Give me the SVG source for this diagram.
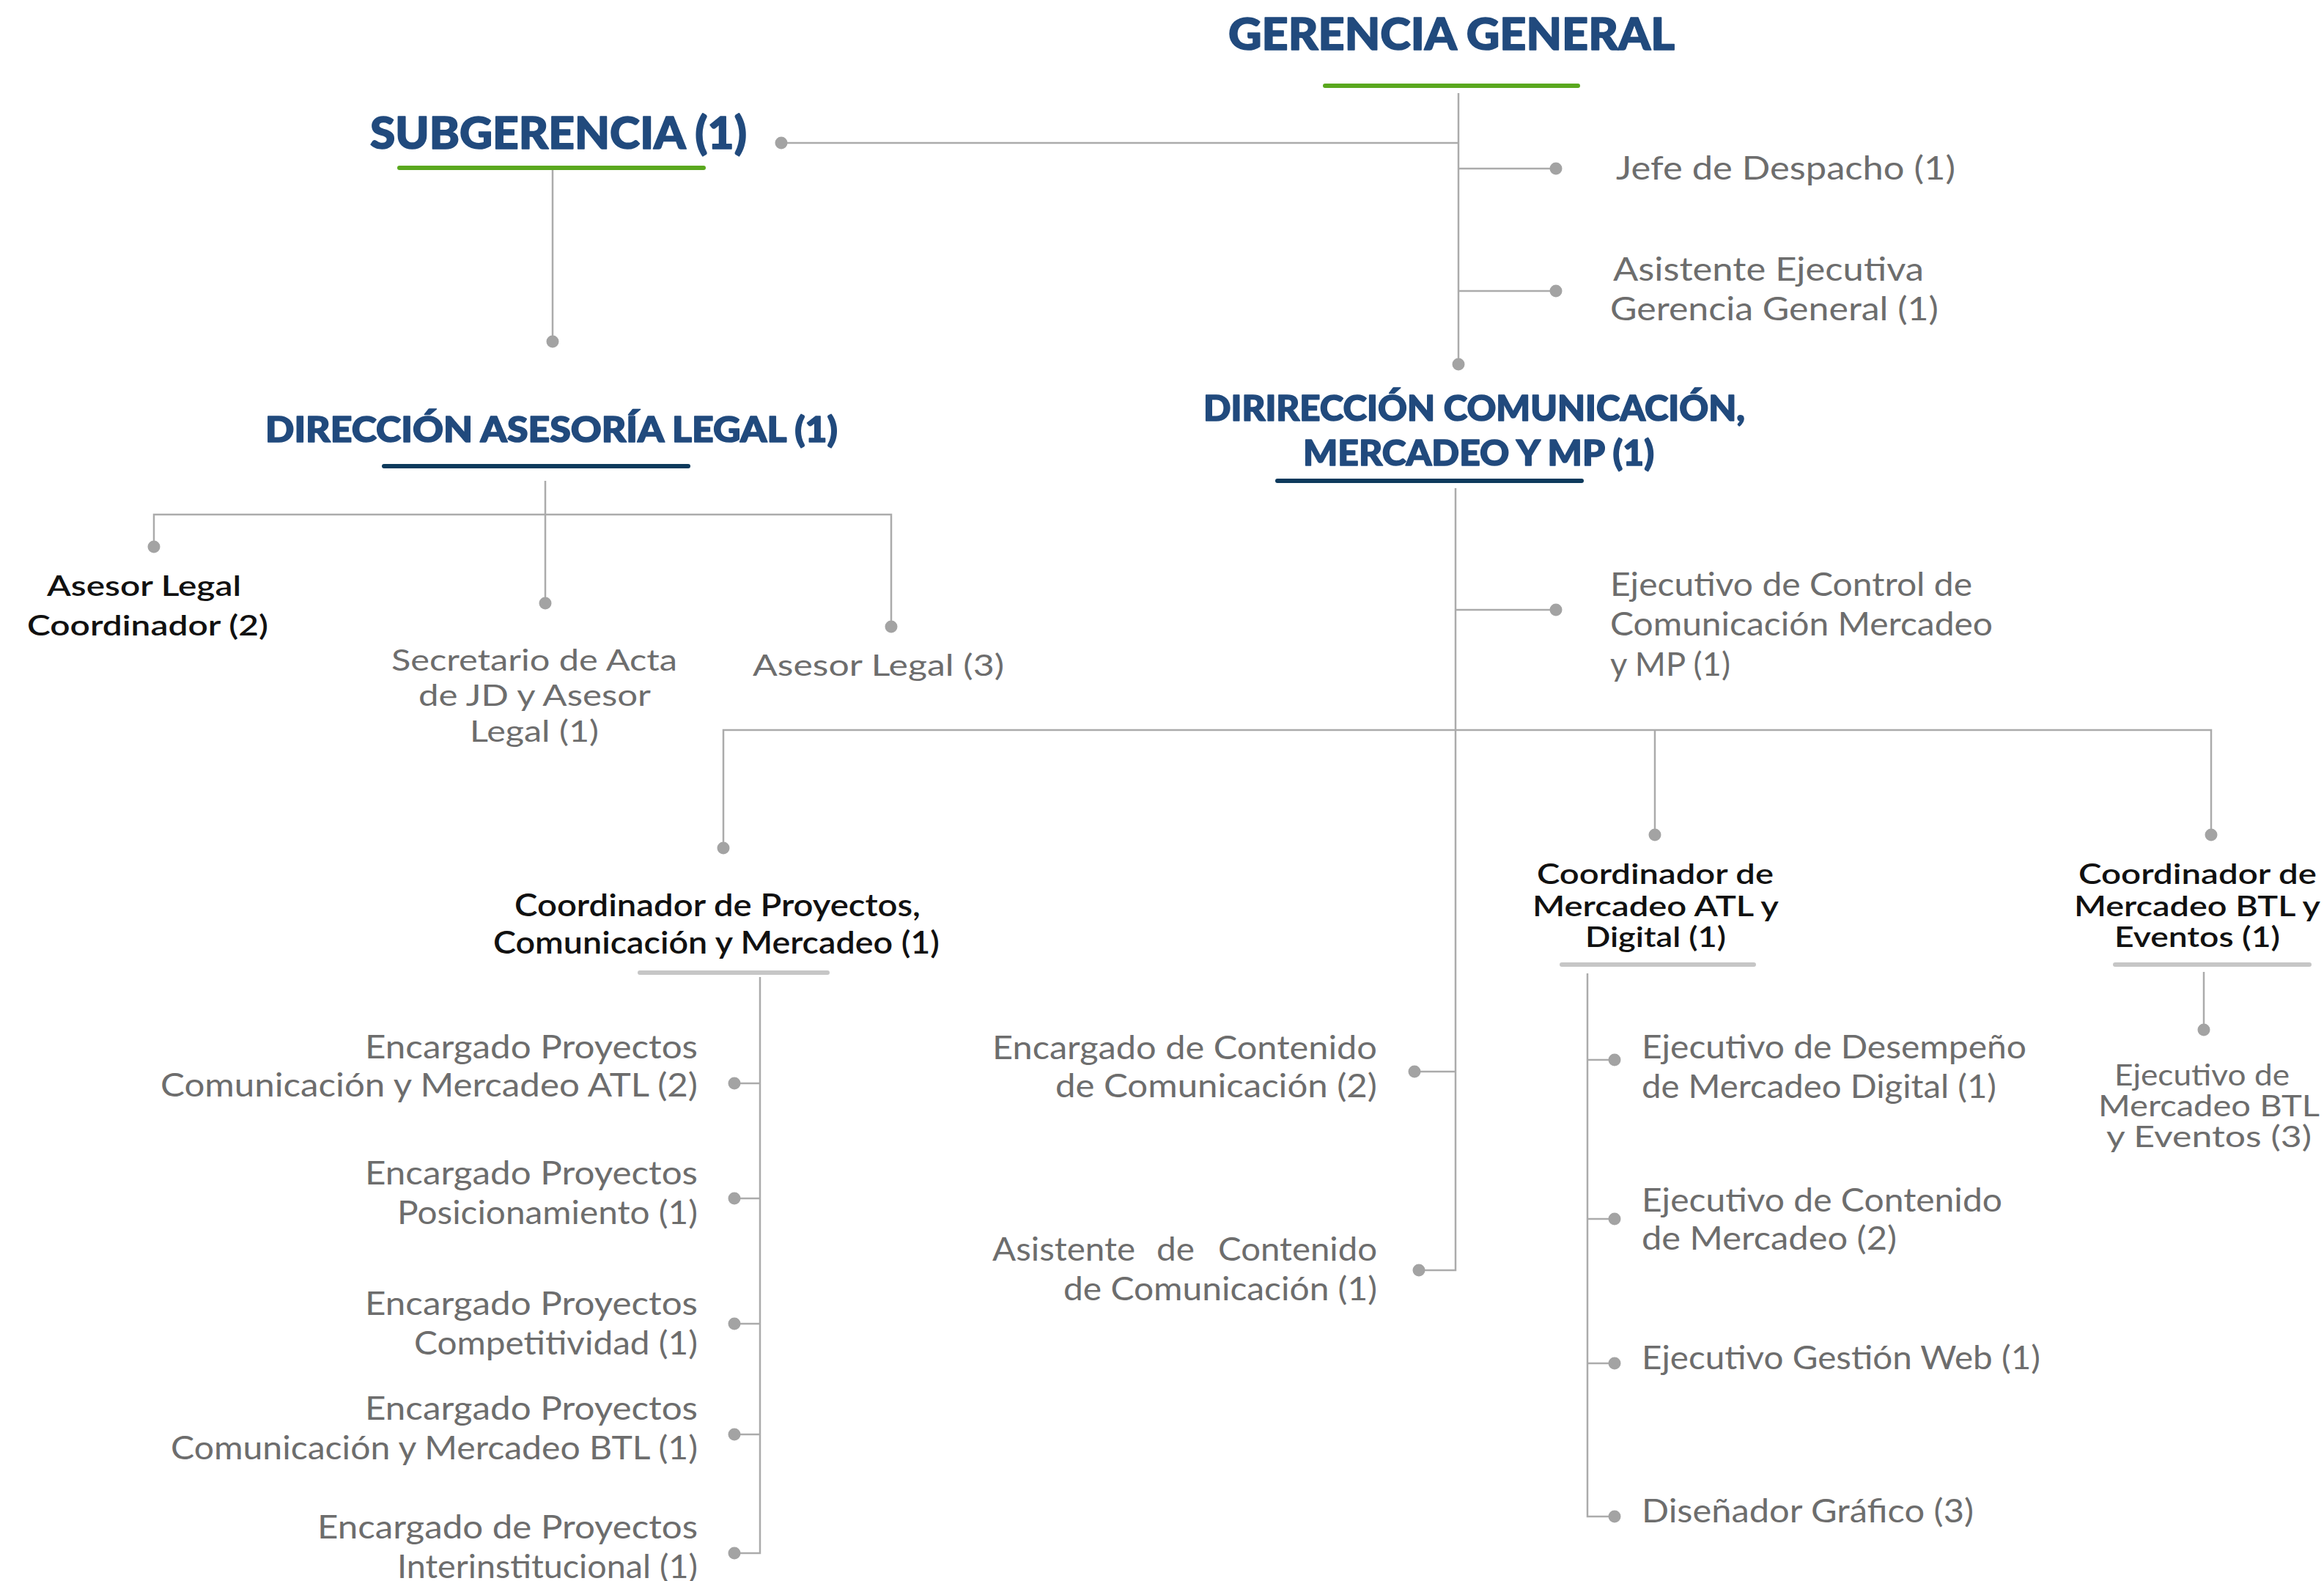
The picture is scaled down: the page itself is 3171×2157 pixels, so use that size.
<svg xmlns="http://www.w3.org/2000/svg" width="3171" height="2157" viewBox="0 0 3171 2157">
<style>
.h{font-family:Lato,"Liberation Sans",sans-serif;font-weight:900;fill:#214a7d;stroke:#214a7d;stroke-width:1.6;stroke-linejoin:round}
.b{font-family:Lato,"Liberation Sans",sans-serif;font-weight:600;fill:#111}
.g{font-family:Lato,"Liberation Sans",sans-serif;font-weight:400;fill:#6d6d6d}
.ln{fill:none;stroke:#ababab;stroke-width:2.5}
.dot{fill:#a3a3a3}
.ug{stroke:#5aa81e;stroke-width:6;stroke-linecap:round}
.un{stroke:#0d3a5c;stroke-width:6;stroke-linecap:round}
.ugr{stroke:#c6c6c6;stroke-width:6;stroke-linecap:round}
</style>
<rect width="3171" height="2157" fill="#fff"/>
<g id="connectors">
<path class="ln" d="M1990 127V497"/>
<path class="ln" d="M1066 195H1990"/>
<path class="ln" d="M1990 230H2123"/>
<path class="ln" d="M1990 397H2123"/>
<path class="ln" d="M754 229V466"/>
<path class="ln" d="M744 656V823"/>
<path class="ln" d="M210 746V702H1216V855"/>
<path class="ln" d="M1986 666V1733H1936"/>
<path class="ln" d="M1986 832H2123"/>
<path class="ln" d="M1986 1462H1930"/>
<path class="ln" d="M987 1157V996H3017V1139"/>
<path class="ln" d="M2258 996V1139"/>
<path class="ln" d="M1037 1333V2119H1002"/>
<path class="ln" d="M1037 1478H1002M1037 1635H1002M1037 1806H1002M1037 1957H1002"/>
<path class="ln" d="M2166 1328V2069H2203"/>
<path class="ln" d="M2166 1446H2203M2166 1663H2203M2166 1860H2203"/>
<path class="ln" d="M3007 1326V1405"/>
<g class="dot">
<circle cx="1990" cy="497" r="8.5"/>
<circle cx="1066" cy="195" r="8.5"/>
<circle cx="2123" cy="230" r="8.5"/>
<circle cx="2123" cy="397" r="8.5"/>
<circle cx="754" cy="466" r="8.5"/>
<circle cx="744" cy="823" r="8.5"/>
<circle cx="210" cy="746" r="8.5"/>
<circle cx="1216" cy="855" r="8.5"/>
<circle cx="2123" cy="832" r="8.5"/>
<circle cx="1930" cy="1462" r="8.5"/>
<circle cx="1936" cy="1733" r="8.5"/>
<circle cx="987" cy="1157" r="8.5"/>
<circle cx="2258" cy="1139" r="8.5"/>
<circle cx="3017" cy="1139" r="8.5"/>
<circle cx="1002" cy="1478" r="8.5"/>
<circle cx="1002" cy="1635" r="8.5"/>
<circle cx="1002" cy="1806" r="8.5"/>
<circle cx="1002" cy="1957" r="8.5"/>
<circle cx="1002" cy="2119" r="8.5"/>
<circle cx="2203" cy="1446" r="8.5"/>
<circle cx="2203" cy="1663" r="8.5"/>
<circle cx="2203" cy="1860" r="8.5"/>
<circle cx="2203" cy="2069" r="8.5"/>
<circle cx="3007" cy="1405" r="8.5"/>
</g>
</g>
<g id="gerencia-general">
<text class="h" x="1676" y="68" font-size="60" textLength="609" lengthAdjust="spacingAndGlyphs">GERENCIA GENERAL</text>
<line class="ug" x1="1808" y1="117" x2="2153" y2="117"/>
</g>
<g id="subgerencia">
<text class="h" x="505" y="203" font-size="60" textLength="514" lengthAdjust="spacingAndGlyphs">SUBGERENCIA (1)</text>
<line class="ug" x1="545" y1="229" x2="960" y2="229"/>
</g>
<g id="jefe-despacho">
<text class="g" x="2205" y="245" font-size="44" textLength="463" lengthAdjust="spacingAndGlyphs">Jefe de Despacho (1)</text>
</g>
<g id="asistente-ejecutiva">
<text class="g" x="2201" y="383" font-size="44" textLength="424" lengthAdjust="spacingAndGlyphs">Asistente Ejecutiva</text>
<text class="g" x="2197" y="437" font-size="44" textLength="448" lengthAdjust="spacingAndGlyphs">Gerencia General (1)</text>
</g>
<g id="direccion-legal">
<text class="h" x="362" y="603" font-size="48" textLength="781" lengthAdjust="spacingAndGlyphs">DIRECCIÓN ASESORÍA LEGAL (1)</text>
<line class="un" x1="524" y1="636" x2="939" y2="636"/>
</g>
<g id="asesor-legal-coordinador">
<text class="b" x="64" y="813" font-size="38" textLength="265" lengthAdjust="spacingAndGlyphs">Asesor Legal</text>
<text class="b" x="37" y="867" font-size="38" textLength="329" lengthAdjust="spacingAndGlyphs">Coordinador (2)</text>
</g>
<g id="secretario-acta">
<text class="g" x="534" y="915" font-size="40" textLength="390" lengthAdjust="spacingAndGlyphs">Secretario de Acta</text>
<text class="g" x="571" y="963" font-size="40" textLength="317" lengthAdjust="spacingAndGlyphs">de JD y Asesor</text>
<text class="g" x="641" y="1012" font-size="40" textLength="176" lengthAdjust="spacingAndGlyphs">Legal (1)</text>
</g>
<g id="asesor-legal">
<text class="g" x="1027" y="922" font-size="40" textLength="343" lengthAdjust="spacingAndGlyphs">Asesor Legal (3)</text>
</g>
<g id="direccion-comunicacion">
<text class="h" x="1642" y="574" font-size="48" textLength="739" lengthAdjust="spacingAndGlyphs">DIRIRECCIÓN COMUNICACIÓN,</text>
<text class="h" x="1778" y="635" font-size="48" textLength="479" lengthAdjust="spacingAndGlyphs">MERCADEO Y MP (1)</text>
<line class="un" x1="1743" y1="656" x2="2158" y2="656"/>
</g>
<g id="ejecutivo-control">
<text class="g" x="2197" y="813" font-size="44" textLength="494" lengthAdjust="spacingAndGlyphs">Ejecutivo de Control de</text>
<text class="g" x="2197" y="867" font-size="44" textLength="522" lengthAdjust="spacingAndGlyphs">Comunicación Mercadeo</text>
<text class="g" x="2197" y="922" font-size="44" textLength="164" lengthAdjust="spacingAndGlyphs">y MP (1)</text>
</g>
<g id="coordinador-proyectos">
<text class="b" x="702" y="1250" font-size="42" textLength="554" lengthAdjust="spacingAndGlyphs">Coordinador de Proyectos,</text>
<text class="b" x="673" y="1301" font-size="42" textLength="609" lengthAdjust="spacingAndGlyphs">Comunicación y Mercadeo (1)</text>
<line class="ugr" x1="873" y1="1327" x2="1129" y2="1327"/>
</g>
<g id="encargado-atl">
<text class="g" x="498" y="1444" font-size="44" textLength="454" lengthAdjust="spacingAndGlyphs">Encargado Proyectos</text>
<text class="g" x="219" y="1496" font-size="44" textLength="733" lengthAdjust="spacingAndGlyphs">Comunicación y Mercadeo ATL (2)</text>
</g>
<g id="encargado-posicionamiento">
<text class="g" x="498" y="1616" font-size="44" textLength="454" lengthAdjust="spacingAndGlyphs">Encargado Proyectos</text>
<text class="g" x="542" y="1670" font-size="44" textLength="410" lengthAdjust="spacingAndGlyphs">Posicionamiento (1)</text>
</g>
<g id="encargado-competitividad">
<text class="g" x="498" y="1794" font-size="44" textLength="454" lengthAdjust="spacingAndGlyphs">Encargado Proyectos</text>
<text class="g" x="565" y="1848" font-size="44" textLength="387" lengthAdjust="spacingAndGlyphs">Competitividad (1)</text>
</g>
<g id="encargado-btl">
<text class="g" x="498" y="1937" font-size="44" textLength="454" lengthAdjust="spacingAndGlyphs">Encargado Proyectos</text>
<text class="g" x="233" y="1991" font-size="44" textLength="719" lengthAdjust="spacingAndGlyphs">Comunicación y Mercadeo BTL (1)</text>
</g>
<g id="encargado-interinstitucional">
<text class="g" x="433" y="2099" font-size="44" textLength="519" lengthAdjust="spacingAndGlyphs">Encargado de Proyectos</text>
<text class="g" x="542" y="2153" font-size="44" textLength="410" lengthAdjust="spacingAndGlyphs">Interinstitucional (1)</text>
</g>
<g id="encargado-contenido">
<text class="g" x="1354" y="1445" font-size="44" textLength="525" lengthAdjust="spacingAndGlyphs">Encargado de Contenido</text>
<text class="g" x="1440" y="1497" font-size="44" textLength="439" lengthAdjust="spacingAndGlyphs">de Comunicación (2)</text>
</g>
<g id="asistente-contenido">
<text class="g" y="1720" font-size="44"><tspan x="1354" textLength="195" lengthAdjust="spacingAndGlyphs">Asistente</tspan><tspan x="1578" textLength="52" lengthAdjust="spacingAndGlyphs">de</tspan><tspan x="1662" textLength="217" lengthAdjust="spacingAndGlyphs">Contenido</tspan></text>
<text class="g" x="1451" y="1774" font-size="44" textLength="428" lengthAdjust="spacingAndGlyphs">de Comunicación (1)</text>
</g>
<g id="coordinador-atl">
<text class="b" x="2097" y="1206" font-size="38" textLength="323" lengthAdjust="spacingAndGlyphs">Coordinador de</text>
<text class="b" x="2091" y="1250" font-size="38" textLength="336" lengthAdjust="spacingAndGlyphs">Mercadeo ATL y</text>
<text class="b" x="2163" y="1292" font-size="38" textLength="192" lengthAdjust="spacingAndGlyphs">Digital (1)</text>
<line class="ugr" x1="2131" y1="1316" x2="2393" y2="1316"/>
</g>
<g id="coordinador-btl">
<text class="b" x="2836" y="1206" font-size="38" textLength="325" lengthAdjust="spacingAndGlyphs">Coordinador de</text>
<text class="b" x="2830" y="1250" font-size="38" textLength="336" lengthAdjust="spacingAndGlyphs">Mercadeo BTL y</text>
<text class="b" x="2885" y="1292" font-size="38" textLength="226" lengthAdjust="spacingAndGlyphs">Eventos (1)</text>
<line class="ugr" x1="2886" y1="1316" x2="3151" y2="1316"/>
</g>
<g id="ejecutivo-desempeno">
<text class="g" x="2240" y="1444" font-size="44" textLength="525" lengthAdjust="spacingAndGlyphs">Ejecutivo de Desempeño</text>
<text class="g" x="2240" y="1498" font-size="44" textLength="484" lengthAdjust="spacingAndGlyphs">de Mercadeo Digital (1)</text>
</g>
<g id="ejecutivo-contenido">
<text class="g" x="2240" y="1653" font-size="44" textLength="492" lengthAdjust="spacingAndGlyphs">Ejecutivo de Contenido</text>
<text class="g" x="2240" y="1705" font-size="44" textLength="348" lengthAdjust="spacingAndGlyphs">de Mercadeo (2)</text>
</g>
<g id="ejecutivo-web">
<text class="g" x="2240" y="1868" font-size="44" textLength="544" lengthAdjust="spacingAndGlyphs">Ejecutivo Gestión Web (1)</text>
</g>
<g id="disenador-grafico">
<text class="g" x="2240" y="2077" font-size="44" textLength="453" lengthAdjust="spacingAndGlyphs">Diseñador Gráfico (3)</text>
</g>
<g id="ejecutivo-btl">
<text class="g" x="2885" y="1481" font-size="40" textLength="239" lengthAdjust="spacingAndGlyphs">Ejecutivo de</text>
<text class="g" x="2863" y="1523" font-size="40" textLength="302" lengthAdjust="spacingAndGlyphs">Mercadeo BTL</text>
<text class="g" x="2874" y="1565" font-size="40" textLength="280" lengthAdjust="spacingAndGlyphs">y Eventos (3)</text>
</g>
</svg>
